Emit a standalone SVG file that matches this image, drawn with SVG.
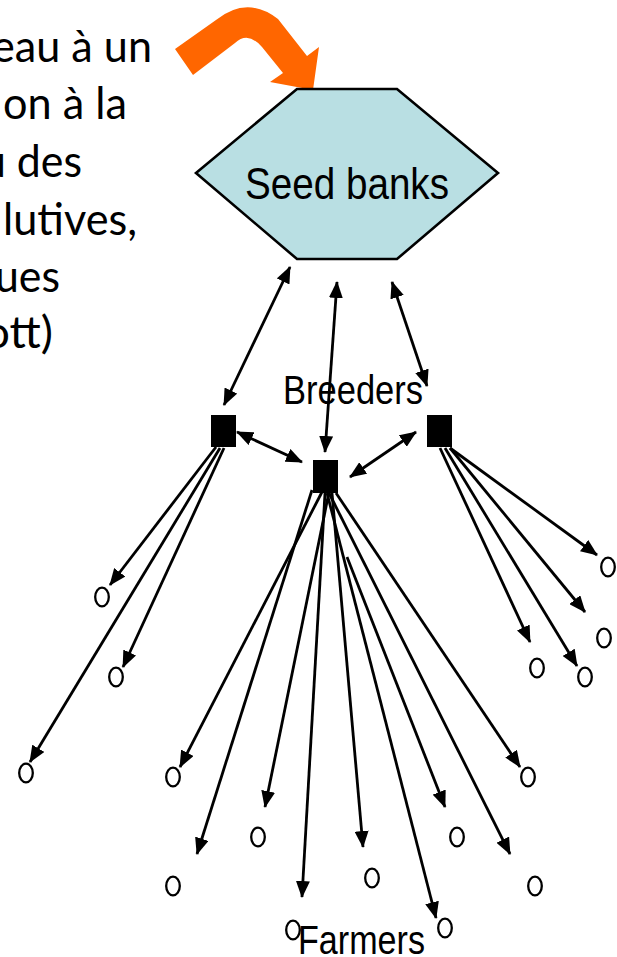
<svg xmlns="http://www.w3.org/2000/svg" width="617" height="957" viewBox="0 0 617 957">
<defs>
<marker id="ah" viewBox="0 0 17 14" markerUnits="userSpaceOnUse" markerWidth="17" markerHeight="14" refX="16" refY="7" orient="auto-start-reverse">
<path d="M0,0 L17,7 L0,14 Z" fill="#000"/>
</marker>
<style>
.fr{font-family:Lato,"Open Sans","Liberation Sans",sans-serif;font-size:45px;fill:#000}
.lb{font-family:"Liberation Sans",Arial,sans-serif;fill:#000}
.c line{stroke:#000;stroke-width:2.8;fill:none;marker-end:url(#ah)}
.c line.b{marker-start:url(#ah)}
.o{fill:none;stroke:#000;stroke-width:2.3}
.sq{fill:#000}
</style>
</defs>
<rect width="617" height="957" fill="#fff"/>
<g id="french-text">
<text class="fr" x="152" y="62" text-anchor="end" textLength="160" lengthAdjust="spacingAndGlyphs">eau à un</text>
<text class="fr" x="127" y="119" text-anchor="end" textLength="124" lengthAdjust="spacingAndGlyphs">on à la</text>
<text class="fr" x="82" y="177" text-anchor="end" textLength="100" lengthAdjust="spacingAndGlyphs">u des</text>
<text class="fr" x="137" y="235" text-anchor="end" textLength="134" lengthAdjust="spacingAndGlyphs">lutives,</text>
<text class="fr" x="60" y="292" text-anchor="end" textLength="65" lengthAdjust="spacingAndGlyphs">ues</text>
<text class="fr" x="53" y="348" text-anchor="end" textLength="69" lengthAdjust="spacingAndGlyphs">ott)</text>
</g>
<g id="orange-arrow">
<path d="M175,49 L216,20 Q247,-5 278,19 L307,56 L319,47 L313,90 L270,82 L283,73 L262,47 Q248,31 235,43 L193,75 Z" fill="#ff6600"/>
</g>
<g id="seed-banks">
<polygon points="196,173 297,89 397,89 498,173 397,259 297,259" fill="#b9dfe3" stroke="#000" stroke-width="2.6"/>
<text class="lb" x="245" y="199" font-size="44" textLength="204" lengthAdjust="spacingAndGlyphs">Seed banks</text>
</g>
<g id="breeders-label">
<text class="lb" x="283" y="404" font-size="40" textLength="140" lengthAdjust="spacingAndGlyphs">Breeders</text>
</g>
<g id="breeder-left"><rect class="sq" x="211" y="415" width="25" height="32"/></g>
<g id="breeder-center"><rect class="sq" x="313" y="460" width="25" height="33"/></g>
<g id="breeder-right"><rect class="sq" x="427" y="415" width="25" height="32"/></g>
<g id="connectors" class="c">
<line class="b" x1="290" y1="267" x2="224" y2="405"/>
<line class="b" x1="337" y1="282" x2="325" y2="452"/>
<line class="b" x1="392" y1="282" x2="427" y2="386"/>
<line class="b" x1="237" y1="432" x2="302" y2="462"/>
<line class="b" x1="350" y1="477" x2="416" y2="432"/>
<line x1="216" y1="447" x2="110" y2="585"/>
<line x1="224" y1="448" x2="123" y2="667"/>
<line x1="220" y1="448" x2="30" y2="762"/>
<line x1="322" y1="492" x2="180" y2="767"/>
<line x1="312" y1="490" x2="197" y2="854"/>
<line x1="329" y1="492" x2="265" y2="807"/>
<line x1="325" y1="493" x2="302" y2="897"/>
<line x1="332" y1="493" x2="363" y2="847"/>
<line x1="327" y1="493" x2="436" y2="918"/>
<line x1="347" y1="557" x2="445" y2="807"/>
<line x1="329" y1="493" x2="510" y2="854"/>
<line x1="336" y1="493" x2="520" y2="767"/>
<line x1="450" y1="448" x2="597" y2="555"/>
<line x1="450" y1="448" x2="585" y2="612"/>
<line x1="440" y1="448" x2="530" y2="642"/>
<line x1="445" y1="448" x2="577" y2="666"/>
</g>
<g id="farmers">
<ellipse class="o" cx="102" cy="597" rx="6.8" ry="9.3"/>
<ellipse class="o" cx="116" cy="677" rx="6.8" ry="9.3"/>
<ellipse class="o" cx="26" cy="773" rx="6.8" ry="9.3"/>
<ellipse class="o" cx="173" cy="777" rx="6.8" ry="9.3"/>
<ellipse class="o" cx="173" cy="886" rx="6.8" ry="9.3"/>
<ellipse class="o" cx="258" cy="837" rx="6.8" ry="9.3"/>
<ellipse class="o" cx="293" cy="930" rx="6.8" ry="9.3"/>
<ellipse class="o" cx="372" cy="878" rx="6.8" ry="9.3"/>
<ellipse class="o" cx="445" cy="928" rx="6.8" ry="9.3"/>
<ellipse class="o" cx="457" cy="837" rx="6.8" ry="9.3"/>
<ellipse class="o" cx="535" cy="886" rx="6.8" ry="9.3"/>
<ellipse class="o" cx="528" cy="777" rx="6.8" ry="9.3"/>
<ellipse class="o" cx="608" cy="567" rx="6.8" ry="9.3"/>
<ellipse class="o" cx="604" cy="638" rx="6.8" ry="9.3"/>
<ellipse class="o" cx="537" cy="668" rx="6.8" ry="9.3"/>
<ellipse class="o" cx="585" cy="677" rx="6.8" ry="9.3"/>
<text class="lb" x="298" y="954" font-size="41" textLength="127" lengthAdjust="spacingAndGlyphs">Farmers</text>
</g>
</svg>
